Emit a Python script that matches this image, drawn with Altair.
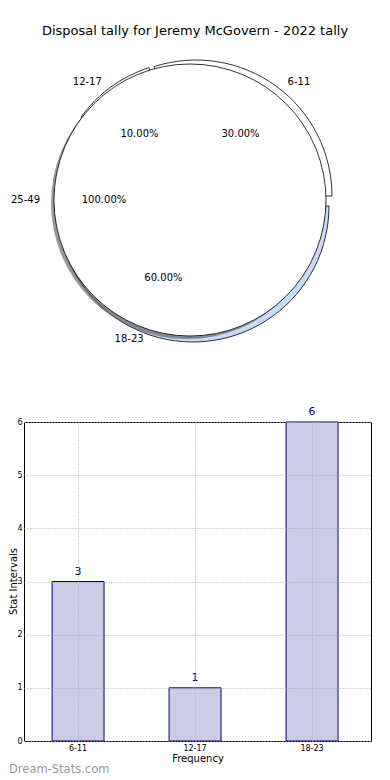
import altair as alt
import pandas as pd
import numpy as np

title_text = "Disposal tally for Jeremy McGovern - 2022 tally"

pie_labels = ["6-11", "12-17", "18-23", "25-49"]
pie_pcts = [30.0, 10.0, 60.0, 100.0]

bar_cats = ["6-11", "12-17", "18-23"]
bar_vals = [3, 1, 6]
y_ticks = [0, 1, 2, 3, 4, 5, 6]
x_title = "Frequency"
y_title = "Stat Intervals"
watermark = "Dream-Stats.com"

# ---- styles (not data)
pie_colors = ["#ffffff", "#ffffff", "#c8daf8", "#ffffff"]
explode_px = [(6, -4), (1, -3), (3, 6), (0, 0)]   # visual explode offset per wedge
FONT = "DejaVu Sans"
PW, PH = 347, 320
CX, CY = 166, 160
R = 136
LAB_RX_R, LAB_RX_L, LAB_RY = 166, 150, 146   # outer label ellipse
PCT_RX, PCT_RY = 86, 82                       # percentage label ellipse
BW, BH = 347, 319

# ---- pie geometry (matplotlib-style: start at 3 o'clock, counter-clockwise)
frac = np.array(pie_pcts) / 100.0
start = (np.cumsum(frac) - frac) % 1.0
end = start + frac
a0 = start * 2 * np.pi
a1 = end * 2 * np.pi
th0 = np.pi / 2 - a1 + 2 * np.pi
th1 = np.pi / 2 - a0 + 2 * np.pi
mid = (th0 + th1) / 2
right = np.sin(mid) >= 0

pie_df = pd.DataFrame({
    "label": pie_labels,
    "pct": [f"{p:.2f}%" for p in pie_pcts],
    "color": pie_colors,
    "exploded": [e != (0, 0) for e in explode_px],
    "wx": [CX + e[0] for e in explode_px],
    "wy": [CY + e[1] for e in explode_px],
    "th0": th0,
    "th1": th1,
    "lx": CX + np.where(right, LAB_RX_R, LAB_RX_L) * np.sin(mid),
    "ly": CY - LAB_RY * np.cos(mid),
    "px": CX + PCT_RX * np.sin(mid),
    "py": CY - PCT_RY * np.cos(mid),
    "side": np.where(right, "right", "left"),
})

base = alt.Chart(pie_df)

wedges = base.transform_filter("datum.exploded").mark_arc(
    stroke="black", strokeWidth=0.8
).encode(
    theta=alt.Theta("th0:Q", scale=None),
    theta2="th1:Q",
    radius=alt.value(R),
    fill=alt.Fill("color:N", scale=None),
    x=alt.X("wx:Q", scale=None), y=alt.Y("wy:Q", scale=None),
)

shadow = base.transform_filter("!datum.exploded").mark_arc(
    fill="#555555", opacity=0.6
).encode(
    theta=alt.Theta("th0:Q", scale=None),
    theta2="th1:Q",
    radius=alt.value(R),
    x=alt.value(CX - 3), y=alt.value(CY + 3),
)

full = base.transform_filter("!datum.exploded").mark_arc(
    stroke="black", strokeWidth=0.8
).encode(
    theta=alt.Theta("th0:Q", scale=None),
    theta2="th1:Q",
    radius=alt.value(R),
    fill=alt.Fill("color:N", scale=None),
    x=alt.value(CX), y=alt.value(CY),
)

pct_text = base.mark_text(fontSize=10, font=FONT, color="black").encode(
    x=alt.X("px:Q", scale=None), y=alt.Y("py:Q", scale=None), text="pct:N",
)
lab_right = base.transform_filter("datum.side == 'right'").mark_text(
    fontSize=10, font=FONT, color="black", align="left"
).encode(x=alt.X("lx:Q", scale=None), y=alt.Y("ly:Q", scale=None), text="label:N")
lab_left = base.transform_filter("datum.side == 'left'").mark_text(
    fontSize=10, font=FONT, color="black", align="right"
).encode(x=alt.X("lx:Q", scale=None), y=alt.Y("ly:Q", scale=None), text="label:N")

pie = alt.layer(wedges, shadow, full, pct_text, lab_right, lab_left).properties(
    width=PW, height=PH, view=alt.ViewBackground(stroke="transparent")
)

# ---- bar chart
bar_df = pd.DataFrame({"cat": bar_cats, "val": bar_vals})
grid_kw = dict(grid=True, gridDash=[1, 2], gridColor="#aaaaaa", gridWidth=1,
               ticks=False, domain=False, zindex=1, labelFont=FONT, titleFont=FONT,
               labelColor="black", titleColor="black", titleFontWeight="normal")

xenc = alt.X("cat:N", sort=bar_cats,
             scale=alt.Scale(paddingInner=0.556, paddingOuter=0.261, align=0.46),
             axis=alt.Axis(title=x_title, labelAngle=0, labelFontSize=8,
                           labelPadding=3, titleFontSize=10, titlePadding=1,
                           bandPosition=0.5, **grid_kw))
yenc = alt.Y("val:Q", scale=alt.Scale(domain=[0, 6], nice=False),
             axis=alt.Axis(values=y_ticks, title=None, labelFontSize=8,
                           labelPadding=2, **grid_kw))

bars = alt.Chart(bar_df).mark_bar(fill="#ccccE6", stroke="#000080", strokeWidth=1).encode(
    x=xenc, y=yenc
)
vals = alt.Chart(bar_df).mark_text(color="#000080", fontSize=11, font=FONT,
                                   baseline="bottom", dy=-5).encode(
    x=alt.X("cat:N", sort=bar_cats), y="val:Q", text="val:Q"
)
ytitle = alt.Chart(pd.DataFrame({"t": [y_title]})).mark_text(
    angle=270, align="center", baseline="middle", fontSize=10, font=FONT, color="black"
).encode(text="t:N", x=alt.value(-10), y=alt.value(BH / 2))
wm = alt.Chart(pd.DataFrame({"t": [watermark]})).mark_text(
    align="left", baseline="middle", fontSize=11.5, font=FONT, color="#999999"
).encode(text="t:N", x=alt.value(-15), y=alt.value(348))

bar = alt.layer(bars, vals, ytitle, wm).properties(width=BW, height=BH)

chart = alt.vconcat(pie, bar, spacing=44).properties(
    title=alt.TitleParams(title_text, fontSize=13, font=FONT, fontWeight="normal",
                          anchor="middle", offset=2, color="black", dx=5),
    padding={"left": 0, "top": 16, "right": 0, "bottom": 0},
).configure_view(stroke="black", strokeWidth=1)

chart.save("out.html", embed_options={"renderer": "svg", "actions": False})
